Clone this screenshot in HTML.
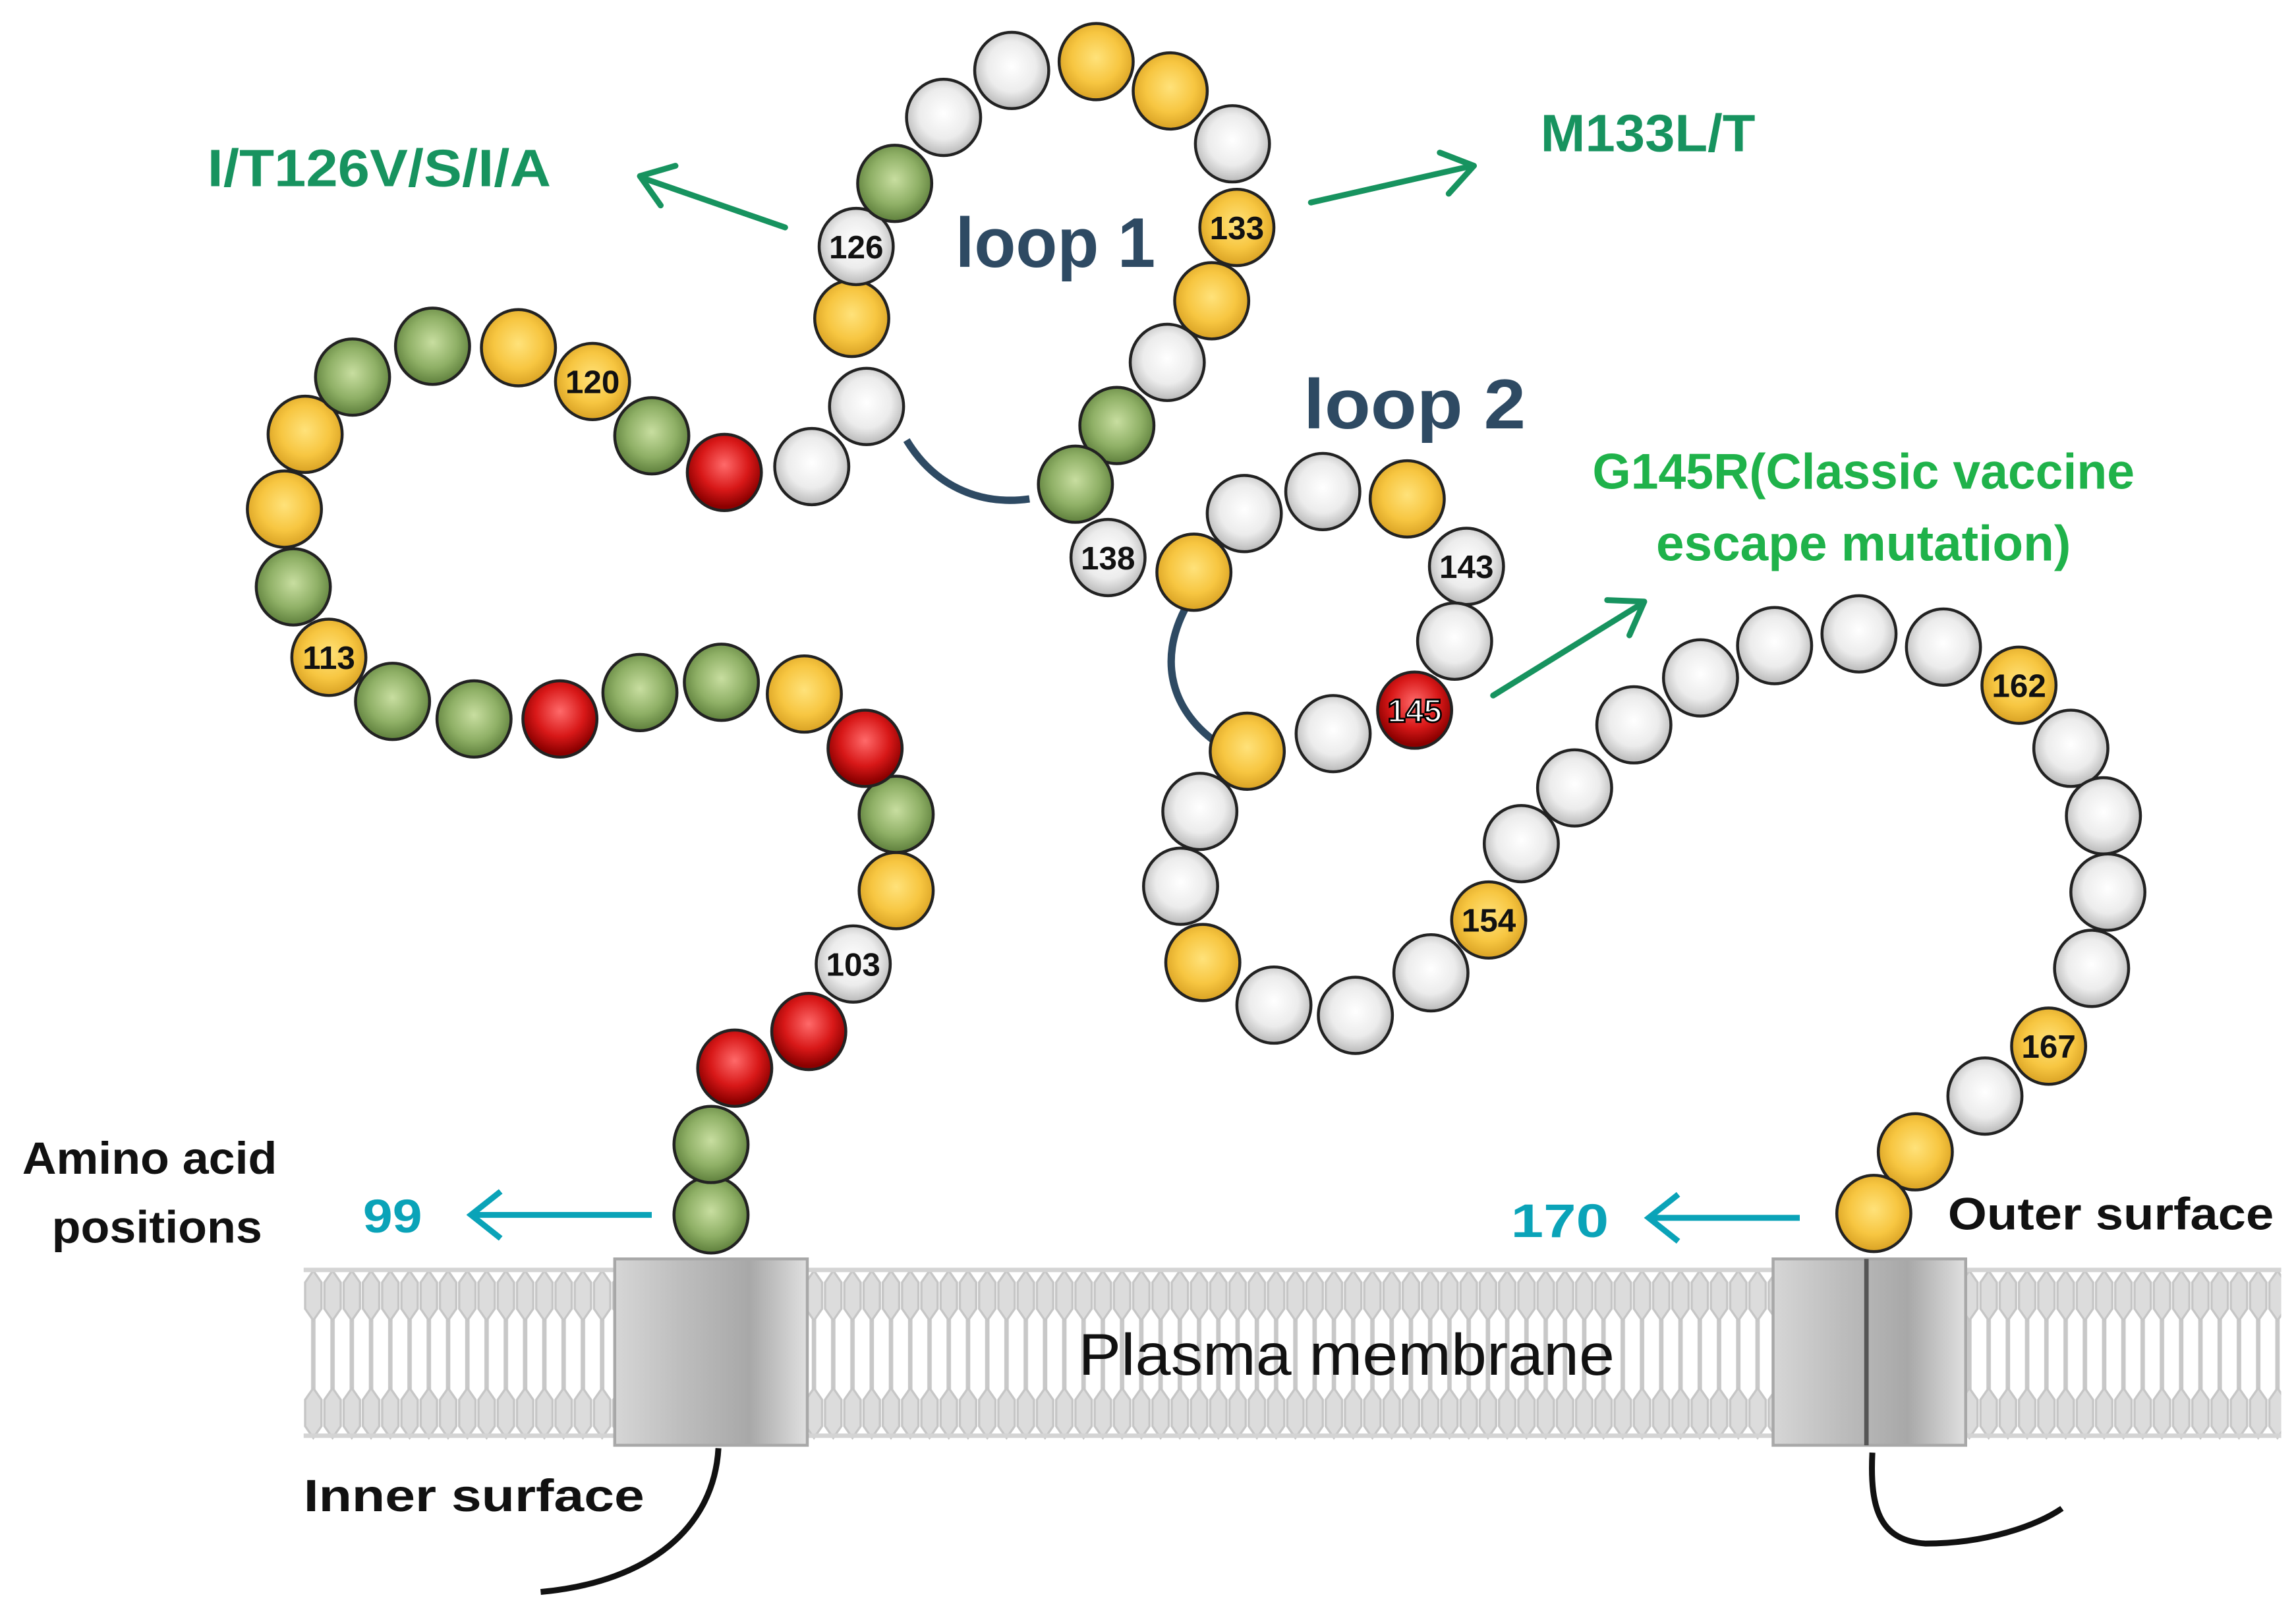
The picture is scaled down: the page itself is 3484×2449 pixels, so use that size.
<!DOCTYPE html>
<html><head><meta charset="utf-8"><style>
html,body{margin:0;padding:0;background:#fff;}
svg{display:block;}
text{font-family:"Liberation Sans",sans-serif;font-weight:bold;}
</style></head><body>
<svg width="3484" height="2449" viewBox="0 0 1550 1100" preserveAspectRatio="none" xmlns="http://www.w3.org/2000/svg">
<defs>
<radialGradient id="gw" cx="50%" cy="45%" r="55%"><stop offset="0" stop-color="#ffffff"/><stop offset="0.6" stop-color="#ececec"/><stop offset="1" stop-color="#b8b8b8"/></radialGradient>
<radialGradient id="gy" cx="50%" cy="45%" r="55%"><stop offset="0" stop-color="#ffe27a"/><stop offset="0.6" stop-color="#f7c641"/><stop offset="1" stop-color="#d9a224"/></radialGradient>
<radialGradient id="gg" cx="50%" cy="45%" r="55%"><stop offset="0" stop-color="#c8dea0"/><stop offset="0.6" stop-color="#8fb066"/><stop offset="1" stop-color="#5e7f3c"/></radialGradient>
<radialGradient id="gr" cx="50%" cy="40%" r="55%"><stop offset="0" stop-color="#ff6a6a"/><stop offset="0.6" stop-color="#d81818"/><stop offset="1" stop-color="#8c0000"/></radialGradient>
<linearGradient id="box" x1="0" x2="1"><stop offset="0" stop-color="#d6d6d6"/><stop offset="0.35" stop-color="#bdbdbd"/><stop offset="0.7" stop-color="#a8a8a8"/><stop offset="1" stop-color="#e0e0e0"/></linearGradient>
<pattern id="lip" x="205" y="0" width="13" height="1100" patternUnits="userSpaceOnUse">
<rect x="5" y="880" width="3" height="90" fill="#c8c8c8"/>
<path d="M6.5 866 L12 874 L12 892 L6.5 900 L1 892 L1 874Z" fill="#dcdcdc" stroke="#c6c6c6" stroke-width="1.5"/>
<path d="M6.5 946 L12 954 L12 972 L6.5 980 L1 972 L1 954Z" fill="#dcdcdc" stroke="#c6c6c6" stroke-width="1.5"/>
</pattern>
</defs>

<!-- membrane -->
<rect x="205" y="864" width="1335" height="118" fill="url(#lip)"/>
<rect x="205" y="864" width="1335" height="3" fill="#d4d4d4"/>
<rect x="205" y="977" width="1335" height="3" fill="#d4d4d4"/>
<rect x="415" y="858" width="130" height="127" fill="url(#box)" stroke="#a8a8a8" stroke-width="2"/>
<rect x="1197" y="858" width="130" height="127" fill="url(#box)" stroke="#a8a8a8" stroke-width="2"/>
<line x1="1260" y1="858" x2="1260" y2="985" stroke="#555" stroke-width="3"/>
<text x="728" y="937" font-size="40" style="font-weight:normal" fill="#111" textLength="362" lengthAdjust="spacingAndGlyphs">Plasma membrane</text>

<!-- tails -->
<path d="M485 987 C482 1040 440 1078 365 1085" fill="none" stroke="#111" stroke-width="4"/>
<path d="M1264 990 C1262 1030 1270 1050 1300 1052 C1340 1052 1375 1040 1392 1028" fill="none" stroke="#111" stroke-width="4"/>

<!-- loop connectors -->
<path d="M612 300 C630 330 660 345 695 340" fill="none" stroke="#2e4a63" stroke-width="5"/>
<path d="M800 415 C782 450 790 485 824 508" fill="none" stroke="#2e4a63" stroke-width="5"/>

<g stroke="#222" stroke-width="2">
<ellipse cx="480" cy="828" rx="25" ry="26" fill="url(#gg)"/>
<ellipse cx="480" cy="780" rx="25" ry="26" fill="url(#gg)"/>
<ellipse cx="496" cy="728" rx="25" ry="26" fill="url(#gr)"/>
<ellipse cx="546" cy="703" rx="25" ry="26" fill="url(#gr)"/>
<ellipse cx="576" cy="657" rx="25" ry="26" fill="url(#gw)"/>
<ellipse cx="605" cy="607" rx="25" ry="26" fill="url(#gy)"/>
<ellipse cx="605" cy="555" rx="25" ry="26" fill="url(#gg)"/>
<ellipse cx="584" cy="510" rx="25" ry="26" fill="url(#gr)"/>
<ellipse cx="543" cy="473" rx="25" ry="26" fill="url(#gy)"/>
<ellipse cx="487" cy="465" rx="25" ry="26" fill="url(#gg)"/>
<ellipse cx="432" cy="472" rx="25" ry="26" fill="url(#gg)"/>
<ellipse cx="378" cy="490" rx="25" ry="26" fill="url(#gr)"/>
<ellipse cx="320" cy="490" rx="25" ry="26" fill="url(#gg)"/>
<ellipse cx="265" cy="478" rx="25" ry="26" fill="url(#gg)"/>
<ellipse cx="222" cy="448" rx="25" ry="26" fill="url(#gy)"/>
<ellipse cx="198" cy="400" rx="25" ry="26" fill="url(#gg)"/>
<ellipse cx="192" cy="347" rx="25" ry="26" fill="url(#gy)"/>
<ellipse cx="206" cy="296" rx="25" ry="26" fill="url(#gy)"/>
<ellipse cx="238" cy="257" rx="25" ry="26" fill="url(#gg)"/>
<ellipse cx="292" cy="236" rx="25" ry="26" fill="url(#gg)"/>
<ellipse cx="350" cy="237" rx="25" ry="26" fill="url(#gy)"/>
<ellipse cx="400" cy="260" rx="25" ry="26" fill="url(#gy)"/>
<ellipse cx="440" cy="297" rx="25" ry="26" fill="url(#gg)"/>
<ellipse cx="489" cy="322" rx="25" ry="26" fill="url(#gr)"/>
<ellipse cx="548" cy="318" rx="25" ry="26" fill="url(#gw)"/>
<ellipse cx="585" cy="277" rx="25" ry="26" fill="url(#gw)"/>
<ellipse cx="575" cy="217" rx="25" ry="26" fill="url(#gy)"/>
<ellipse cx="578" cy="168" rx="25" ry="26" fill="url(#gw)"/>
<ellipse cx="604" cy="125" rx="25" ry="26" fill="url(#gg)"/>
<ellipse cx="637" cy="80" rx="25" ry="26" fill="url(#gw)"/>
<ellipse cx="683" cy="48" rx="25" ry="26" fill="url(#gw)"/>
<ellipse cx="740" cy="42" rx="25" ry="26" fill="url(#gy)"/>
<ellipse cx="790" cy="62" rx="25" ry="26" fill="url(#gy)"/>
<ellipse cx="832" cy="98" rx="25" ry="26" fill="url(#gw)"/>
<ellipse cx="835" cy="155" rx="25" ry="26" fill="url(#gy)"/>
<ellipse cx="818" cy="205" rx="25" ry="26" fill="url(#gy)"/>
<ellipse cx="788" cy="247" rx="25" ry="26" fill="url(#gw)"/>
<ellipse cx="754" cy="290" rx="25" ry="26" fill="url(#gg)"/>
<ellipse cx="726" cy="330" rx="25" ry="26" fill="url(#gg)"/>
<ellipse cx="748" cy="380" rx="25" ry="26" fill="url(#gw)"/>
<ellipse cx="806" cy="390" rx="25" ry="26" fill="url(#gy)"/>
<ellipse cx="840" cy="350" rx="25" ry="26" fill="url(#gw)"/>
<ellipse cx="893" cy="335" rx="25" ry="26" fill="url(#gw)"/>
<ellipse cx="950" cy="340" rx="25" ry="26" fill="url(#gy)"/>
<ellipse cx="990" cy="386" rx="25" ry="26" fill="url(#gw)"/>
<ellipse cx="982" cy="437" rx="25" ry="26" fill="url(#gw)"/>
<ellipse cx="955" cy="484" rx="25" ry="26" fill="url(#gr)"/>
<ellipse cx="900" cy="500" rx="25" ry="26" fill="url(#gw)"/>
<ellipse cx="842" cy="512" rx="25" ry="26" fill="url(#gy)"/>
<ellipse cx="810" cy="553" rx="25" ry="26" fill="url(#gw)"/>
<ellipse cx="797" cy="604" rx="25" ry="26" fill="url(#gw)"/>
<ellipse cx="812" cy="656" rx="25" ry="26" fill="url(#gy)"/>
<ellipse cx="860" cy="685" rx="25" ry="26" fill="url(#gw)"/>
<ellipse cx="915" cy="692" rx="25" ry="26" fill="url(#gw)"/>
<ellipse cx="966" cy="663" rx="25" ry="26" fill="url(#gw)"/>
<ellipse cx="1005" cy="627" rx="25" ry="26" fill="url(#gy)"/>
<ellipse cx="1027" cy="575" rx="25" ry="26" fill="url(#gw)"/>
<ellipse cx="1063" cy="537" rx="25" ry="26" fill="url(#gw)"/>
<ellipse cx="1103" cy="494" rx="25" ry="26" fill="url(#gw)"/>
<ellipse cx="1148" cy="462" rx="25" ry="26" fill="url(#gw)"/>
<ellipse cx="1198" cy="440" rx="25" ry="26" fill="url(#gw)"/>
<ellipse cx="1255" cy="432" rx="25" ry="26" fill="url(#gw)"/>
<ellipse cx="1312" cy="441" rx="25" ry="26" fill="url(#gw)"/>
<ellipse cx="1363" cy="467" rx="25" ry="26" fill="url(#gy)"/>
<ellipse cx="1398" cy="510" rx="25" ry="26" fill="url(#gw)"/>
<ellipse cx="1420" cy="556" rx="25" ry="26" fill="url(#gw)"/>
<ellipse cx="1423" cy="608" rx="25" ry="26" fill="url(#gw)"/>
<ellipse cx="1412" cy="660" rx="25" ry="26" fill="url(#gw)"/>
<ellipse cx="1383" cy="713" rx="25" ry="26" fill="url(#gy)"/>
<ellipse cx="1340" cy="747" rx="25" ry="26" fill="url(#gw)"/>
<ellipse cx="1293" cy="785" rx="25" ry="26" fill="url(#gy)"/>
<ellipse cx="1265" cy="827" rx="25" ry="26" fill="url(#gy)"/>
</g>

<g font-size="22" fill="#111" text-anchor="middle">
<text x="576" y="665">103</text>
<text x="222" y="456">113</text>
<text x="400" y="268">120</text>
<text x="578" y="176">126</text>
<text x="835" y="163">133</text>
<text x="748" y="388">138</text>
<text x="990" y="394">143</text>
<text x="955" y="492" fill="#fff" stroke="#000" stroke-width="1.2">145</text>
<text x="1005" y="635">154</text>
<text x="1363" y="475">162</text>
<text x="1383" y="721">167</text>
</g>

<text x="645" y="182" font-size="48" fill="#2e4a63" textLength="135" lengthAdjust="spacingAndGlyphs">loop 1</text>
<text x="880" y="292" font-size="48" fill="#2e4a63" textLength="150" lengthAdjust="spacingAndGlyphs">loop 2</text>

<text x="140" y="127" font-size="36" fill="#17935f" textLength="232" lengthAdjust="spacingAndGlyphs">I/T126V/S/I/A</text>
<text x="1040" y="103" font-size="36" fill="#17935f" textLength="145" lengthAdjust="spacingAndGlyphs">M133L/T</text>
<text x="1075" y="333" font-size="34" fill="#1fb24a" textLength="366" lengthAdjust="spacingAndGlyphs">G145R(Classic vaccine</text>
<text x="1118" y="382" font-size="34" fill="#1fb24a" textLength="280" lengthAdjust="spacingAndGlyphs">escape mutation)</text>

<g stroke="#17935f" stroke-width="4" fill="none" stroke-linecap="round" stroke-linejoin="round">
<line x1="530" y1="155" x2="433" y2="121"/><path d="M446 140 L432 120 L456 113"/>
<line x1="885" y1="138" x2="994" y2="113"/><path d="M972 104 L995 113 L978 132"/>
<line x1="1008" y1="474" x2="1109" y2="411"/><path d="M1085 409 L1110 410 L1100 433"/>
</g>

<g stroke="#0aa3b8" stroke-width="4" fill="none">
<line x1="440" y1="828" x2="318" y2="828"/><path d="M338 812 L318 828 L338 844"/>
<line x1="1215" y1="830" x2="1113" y2="830"/><path d="M1133 814 L1113 830 L1133 846"/>
</g>
<text x="245" y="840" font-size="32" fill="#0aa3b8" textLength="40" lengthAdjust="spacingAndGlyphs">99</text>
<text x="1020" y="843" font-size="32" fill="#0aa3b8" textLength="66" lengthAdjust="spacingAndGlyphs">170</text>

<g fill="#111" font-size="31">
<text x="15" y="800" textLength="172" lengthAdjust="spacingAndGlyphs">Amino acid</text>
<text x="35" y="847" textLength="142" lengthAdjust="spacingAndGlyphs">positions</text>
<text x="1315" y="838" textLength="220" lengthAdjust="spacingAndGlyphs">Outer surface</text>
<text x="205" y="1030" textLength="230" lengthAdjust="spacingAndGlyphs">Inner surface</text>
</g>
</svg>
</body></html>
